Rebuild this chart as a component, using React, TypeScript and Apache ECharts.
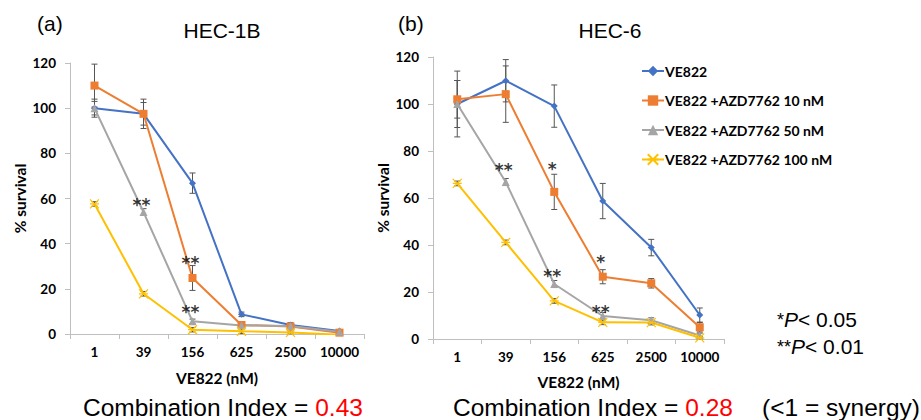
import React, { useEffect, useRef } from "react";
import * as echarts from "echarts";

const categories = ["1", "39", "156", "625", "2500", "10000"];
const seriesNames = ["VE822", "VE822 +AZD7762 10 nM", "VE822 +AZD7762 50 nM", "VE822 +AZD7762 100 nM"];
const colors = ["#4472C4", "#ED7D31", "#A5A5A5", "#FFC000"];

// HEC-1B (a)
const hec1bValues = [
  [100, 97.5, 66.8, 8.7, 4, 1.3],
  [110, 97.5, 24.8, 4, 3.3, 0.6],
  [100, 54, 5.6, 3.8, 3.5, 1],
  [57.6, 17.8, 1.9, 1.2, 0.7, -0.3],
];
const hec1bErrors = [
  [3, 5, 4.5, 1, 1, 0.6],
  [9.5, 6.5, 5.5, 1, 1, 0.5],
  [4, 1.5, 1, 0.5, 1, 0.5],
  [1, 1, 1, 1, 0.6, 0.3],
];
const hec1bStars = [
  { cat: 1, value: 58.5, text: "**" },
  { cat: 2, value: 32.8, text: "**" },
  { cat: 2, value: 11.1, text: "**" },
];

// HEC-6 (b)
const hec6Values = [
  [100, 109.9, 99.1, 58.7, 38.9, 10.2],
  [102, 104.2, 62.6, 26.5, 23.7, 5],
  [100, 66.8, 23.4, 9.8, 8, 1.5],
  [66.2, 41.1, 16.2, 7.1, 7, 0.5],
];
const hec6Errors = [
  [14, 9, 9, 7.5, 3.5, 3],
  [8, 12, 7.5, 3, 2, 2],
  [10, 1.5, 1.5, 1.5, 1, 1],
  [1, 1, 1, 1, 1, 0.5],
];
const hec6Stars = [
  { cat: 1, value: 73.2, text: "**" },
  { cat: 2, value: 73.6, text: "*" },
  { cat: 2, value: 28.1, text: "**" },
  { cat: 3, value: 34, text: "*" },
  { cat: 3, value: 12.8, text: "**" },
];

const yTicks = { min: 0, max: 120, interval: 20 };
const ciLeft = "0.43";
const ciRight = "0.28";

const symbols = [
  "diamond",
  "rect",
  "triangle",
  "path://M0,0 L10,10 M10,0 L0,10 M0,5 L10,5",
];
const symbolSizes = [7, 8, 8, 9];

const tickFont = "Lato, 'Open Sans', sans-serif";
const textFont = "'Liberation Sans', Arial, sans-serif";

function buildPanel(idx: number, values: number[][], errors: number[][], stars: { cat: number; value: number; text: string }[]) {
  const out: any[] = [];
  values.forEach((vals, s) => {
    out.push({
      type: "custom",
      name: seriesNames[s] + " err",
      xAxisIndex: idx,
      yAxisIndex: idx,
      z: 1,
      silent: true,
      data: vals.map((v, i) => [i, v, errors[s][i]]),
      renderItem: (params: any, api: any) => {
        const x = api.value(0);
        const v = api.value(1);
        const e = api.value(2);
        const top = api.coord([x, v + e]);
        const bot = api.coord([x, v - e]);
        const style = { stroke: "#555", lineWidth: 1 };
        const w = 3;
        return {
          type: "group",
          children: [
            { type: "line", shape: { x1: top[0], y1: top[1], x2: bot[0], y2: bot[1] }, style },
            { type: "line", shape: { x1: top[0] - w, y1: top[1], x2: top[0] + w, y2: top[1] }, style },
            { type: "line", shape: { x1: bot[0] - w, y1: bot[1], x2: bot[0] + w, y2: bot[1] }, style },
          ],
        };
      },
    });
  });
  values.forEach((vals, s) => {
    out.push({
      type: "line",
      name: seriesNames[s],
      xAxisIndex: idx,
      yAxisIndex: idx,
      z: 3,
      data: vals,
      symbol: symbols[s],
      symbolSize: symbolSizes[s],
      showAllSymbol: true,
      lineStyle: { color: colors[s], width: 2 },
      itemStyle: { color: colors[s], borderColor: colors[s], borderWidth: s === 3 ? 1.2 : 0 },
    });
  });
  out.push({
    type: "scatter",
    name: "stars" + idx,
    xAxisIndex: idx,
    yAxisIndex: idx,
    z: 5,
    silent: true,
    symbol: "circle",
    symbolSize: 1,
    itemStyle: { color: "rgba(0,0,0,0)" },
    data: stars.map((st) => ({ value: [st.cat, st.value], label: { formatter: st.text } })),
    label: {
      show: true,
      position: "inside",
      color: "#000",
      fontFamily: "'DejaVu Sans', sans-serif",
      fontSize: 17,
      fontWeight: "bold",
      offset: [-2, 3],
    },
  });
  return out;
}

export default function App() {
  const ref = useRef<HTMLDivElement>(null);
  useEffect(() => {
    if (!ref.current) return;
    const chart = echarts.init(ref.current, null, { renderer: "svg" });
    const axisLabel = { fontFamily: tickFont, fontWeight: "bold", fontSize: 13.5, color: "#000" };
    const nameText = { fontFamily: tickFont, fontWeight: "bold", fontSize: 15.5, color: "#000" };
    const xAxis = (gi: number, gap: number) => ({
      type: "category",
      gridIndex: gi,
      data: categories,
      axisLine: { lineStyle: { color: "#bfbfbf", width: 1 } },
      axisTick: { show: true, length: 5, lineStyle: { color: "#bfbfbf" } },
      axisLabel: { ...axisLabel, margin: 11, interval: 0 },
      name: "VE822 (nM)",
      nameLocation: "middle",
      nameGap: gap,
      nameTextStyle: nameText,
      splitLine: { show: false },
    });
    const yAxis = (gi: number) => ({
      type: "value",
      gridIndex: gi,
      ...yTicks,
      axisLine: { show: true, lineStyle: { color: "#bfbfbf", width: 1 } },
      axisTick: { show: true, length: 5, lineStyle: { color: "#bfbfbf" } },
      axisLabel: { ...axisLabel, margin: 14 },
      splitLine: { show: false },
      name: "% survival",
      nameLocation: "middle",
      nameGap: 42,
      nameRotate: 90,
      nameTextStyle: nameText,
    });
    const big = 24.5;
    const ciStyle = (v: string) => ({
      text: "{b|Combination Index = }{r|" + v + "}",
      rich: {
        b: { fontFamily: textFont, fontSize: big, lineHeight: big, fill: "#000" },
        r: { fontFamily: textFont, fontSize: big, lineHeight: big, fill: "#ff0000" },
      },
    });
    chart.setOption({
      animation: false,
      backgroundColor: "#fff",
      grid: [
        { left: 70, top: 63, width: 294, height: 271 },
        { left: 433, top: 57, width: 291, height: 282 },
      ],
      xAxis: [xAxis(0, 36), xAxis(1, 35)],
      yAxis: [yAxis(0), yAxis(1)],
      legend: {
        orient: "vertical",
        left: 641,
        top: 64,
        padding: 0,
        itemGap: 15.5,
        itemWidth: 22,
        itemHeight: 13,
        data: seriesNames,
        selectedMode: false,
        textStyle: { fontFamily: tickFont, fontWeight: "bold", fontSize: 14, color: "#000", padding: [0, 0, 0, -4] },
      },
      title: [
        { text: "(a)", left: 32, top: 8, textStyle: { fontFamily: textFont, fontWeight: "normal", fontSize: 21, color: "#000" } },
        { text: "HEC-1B", left: 217, top: 15, textAlign: "center", textStyle: { fontFamily: textFont, fontWeight: "normal", fontSize: 21, color: "#000" } },
        { text: "(b)", left: 393, top: 8, textStyle: { fontFamily: textFont, fontWeight: "normal", fontSize: 21, color: "#000" } },
        { text: "HEC-6", left: 605, top: 15, textAlign: "center", textStyle: { fontFamily: textFont, fontWeight: "normal", fontSize: 21, color: "#000" } },
      ],
      graphic: [
        { type: "text", left: 83, top: 394.5, style: ciStyle(ciLeft) },
        { type: "text", left: 453, top: 394.5, style: ciStyle(ciRight) },
        {
          type: "text",
          left: 762,
          top: 394.5,
          style: {
            text: "{b|(<1 = synergy)}",
            rich: { b: { fontFamily: textFont, fontSize: big, lineHeight: big, fill: "#000" } },
          },
        },
        {
          type: "text",
          left: 777,
          top: 309,
          style: {
            text: "{s|*}{p|P}{t|< 0.05}",
            rich: {
              s: { fontFamily: textFont, fontSize: 18, fill: "#000" },
              p: { fontFamily: textFont, fontSize: 21, fontStyle: "italic", fill: "#000" },
              t: { fontFamily: textFont, fontSize: 21, fill: "#000" },
            },
          },
        },
        {
          type: "text",
          left: 777,
          top: 336,
          style: {
            text: "{s|**}{p|P}{t|< 0.01}",
            rich: {
              s: { fontFamily: textFont, fontSize: 18, fill: "#000" },
              p: { fontFamily: textFont, fontSize: 21, fontStyle: "italic", fill: "#000" },
              t: { fontFamily: textFont, fontSize: 21, fill: "#000" },
            },
          },
        },
      ],
      series: [
        ...buildPanel(0, hec1bValues, hec1bErrors, hec1bStars),
        ...buildPanel(1, hec6Values, hec6Errors, hec6Stars),
      ],
    });
    return () => chart.dispose();
  }, []);
  return (
    <div
      ref={ref}
      style={{ position: "fixed", left: 0, top: 0, width: 921, height: 420, background: "#fff" }}
    />
  );
}
